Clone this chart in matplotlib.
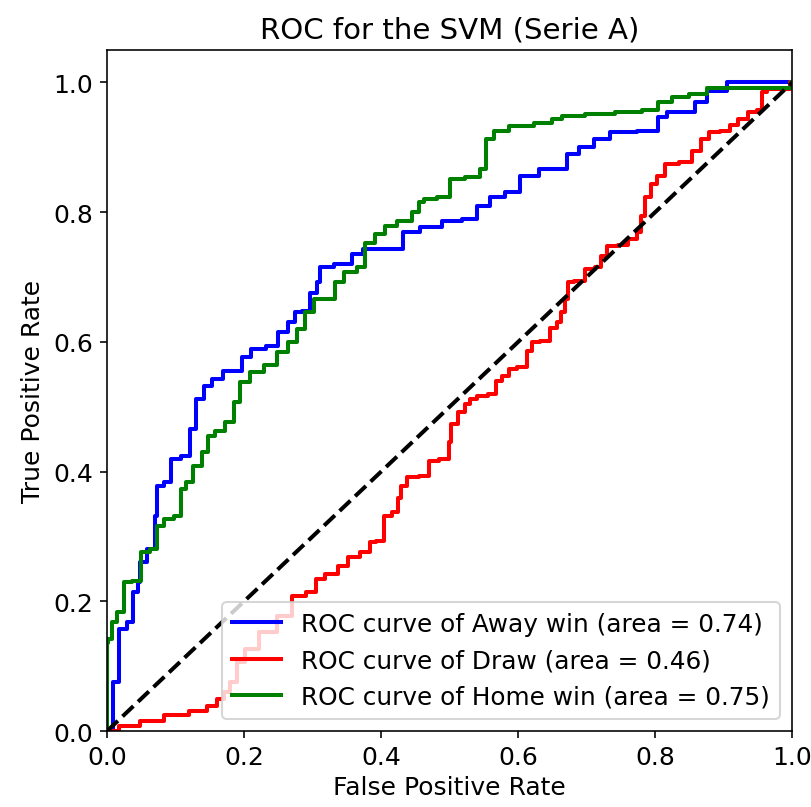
import matplotlib
matplotlib.use("AGG")
import matplotlib.pyplot as plt

# ROC points per class (false positive rate, true positive rate)
away_fpr = [0.0, 0.004, 0.014, 0.021, 0.036, 0.041, 0.048, 0.048, 0.070, 0.070,
            0.077, 0.089, 0.099, 0.118, 0.124, 0.136, 0.146, 0.161, 0.177, 0.194,
            0.201, 0.219, 0.245, 0.255, 0.272, 0.277, 0.292, 0.301, 0.311, 0.311,
            0.350, 0.366, 0.381, 0.423, 0.442, 0.472, 0.505, 0.530, 0.549, 0.569,
            0.593, 0.613, 0.647, 0.666, 0.676, 0.701, 0.720, 0.749, 0.797, 0.812,
            0.822, 0.851, 0.866, 0.885, 0.924, 1.0]
away_tpr = [0.0, 0.003, 0.075, 0.157, 0.168, 0.214, 0.230, 0.260, 0.280, 0.331,
            0.378, 0.384, 0.419, 0.424, 0.465, 0.512, 0.532, 0.542, 0.555, 0.555,
            0.576, 0.589, 0.593, 0.615, 0.630, 0.646, 0.647, 0.676, 0.692, 0.716,
            0.720, 0.735, 0.743, 0.743, 0.769, 0.777, 0.786, 0.789, 0.809, 0.824,
            0.831, 0.855, 0.866, 0.866, 0.889, 0.901, 0.912, 0.923, 0.925, 0.946,
            0.954, 0.955, 0.969, 0.986, 1.0, 1.0]

draw_fpr = [0.0, 0.034, 0.063, 0.102, 0.136, 0.155, 0.165, 0.175, 0.184, 0.194,
            0.209, 0.234, 0.263, 0.277, 0.304, 0.307, 0.330, 0.345, 0.359, 0.380,
            0.387, 0.399, 0.410, 0.423, 0.425, 0.432, 0.442, 0.469, 0.472, 0.496,
            0.501, 0.504, 0.520, 0.526, 0.534, 0.545, 0.566, 0.569, 0.584, 0.588,
            0.607, 0.618, 0.622, 0.642, 0.651, 0.661, 0.664, 0.672, 0.673, 0.690,
            0.705, 0.720, 0.722, 0.737, 0.753, 0.768, 0.778, 0.781, 0.790, 0.797,
            0.807, 0.822, 0.847, 0.861, 0.873, 0.885, 0.905, 0.914, 0.928, 0.943,
            0.953, 0.958, 0.968, 0.993, 1.0]
draw_tpr = [0.0, 0.008, 0.016, 0.024, 0.031, 0.039, 0.049, 0.060, 0.075, 0.106,
            0.126, 0.153, 0.177, 0.208, 0.214, 0.234, 0.242, 0.254, 0.268, 0.276,
            0.291, 0.293, 0.331, 0.337, 0.360, 0.378, 0.391, 0.393, 0.416, 0.419,
            0.445, 0.473, 0.492, 0.504, 0.512, 0.516, 0.519, 0.539, 0.547, 0.558,
            0.561, 0.586, 0.599, 0.601, 0.622, 0.630, 0.646, 0.666, 0.692, 0.693,
            0.712, 0.716, 0.732, 0.747, 0.750, 0.758, 0.769, 0.794, 0.823, 0.843,
            0.855, 0.874, 0.877, 0.894, 0.912, 0.923, 0.925, 0.935, 0.943, 0.954,
            0.958, 0.985, 0.989, 0.989, 1.0]

home_fpr = [0.0, 0.0, 0.004, 0.009, 0.021, 0.029, 0.045, 0.055, 0.070, 0.077,
            0.088, 0.107, 0.109, 0.121, 0.131, 0.146, 0.150, 0.165, 0.180, 0.190,
            0.199, 0.219, 0.238, 0.257, 0.272, 0.282, 0.296, 0.308, 0.328, 0.336,
            0.355, 0.374, 0.380, 0.403, 0.409, 0.438, 0.453, 0.457, 0.467, 0.496,
            0.505, 0.540, 0.549, 0.556, 0.574, 0.599, 0.647, 0.651, 0.676, 0.720,
            0.763, 0.797, 0.812, 0.836, 0.861, 0.891, 0.997, 1.0]
home_tpr = [0.0, 0.135, 0.142, 0.168, 0.183, 0.230, 0.231, 0.276, 0.280, 0.316,
            0.327, 0.331, 0.373, 0.384, 0.408, 0.430, 0.455, 0.462, 0.476, 0.507,
            0.538, 0.553, 0.565, 0.584, 0.599, 0.619, 0.646, 0.666, 0.666, 0.692,
            0.707, 0.716, 0.753, 0.766, 0.778, 0.786, 0.800, 0.815, 0.820, 0.824,
            0.851, 0.854, 0.866, 0.912, 0.925, 0.932, 0.938, 0.943, 0.948, 0.951,
            0.955, 0.958, 0.969, 0.977, 0.982, 0.992, 0.992, 1.0]

class_names = ["Away win", "Draw", "Home win"]
class_auc = [0.74, 0.46, 0.75]
class_colors = ["blue", "red", "green"]

curves = [(away_fpr, away_tpr), (draw_fpr, draw_tpr), (home_fpr, home_tpr)]

dpi = 145
plt.rcParams["font.size"] = 12.4
fig = plt.figure(figsize=(811 / dpi, 808 / dpi), dpi=dpi)
fig.subplots_adjust(left=0.132, right=0.977, bottom=0.094, top=0.937)
ax = fig.add_subplot(111)

for (fpr, tpr), name, auc, color in zip(curves, class_names, class_auc, class_colors):
    ax.plot(fpr, tpr, color=color, lw=2, drawstyle="steps-mid",
            label="ROC curve of {0} (area = {1:0.2f})".format(name, auc))

ax.plot([0, 1], [0, 1], "k--", lw=2)
ax.set_xlim(0.0, 1.0)
ax.set_ylim(0.0, 1.05)
ax.set_xlabel("False Positive Rate", labelpad=3)
ax.set_ylabel("True Positive Rate")
ax.set_title("ROC for the SVM (Serie A)", fontsize=14.5)
ax.legend(loc="lower right", fontsize=12.3)

fig.savefig("out.png", dpi=dpi)
